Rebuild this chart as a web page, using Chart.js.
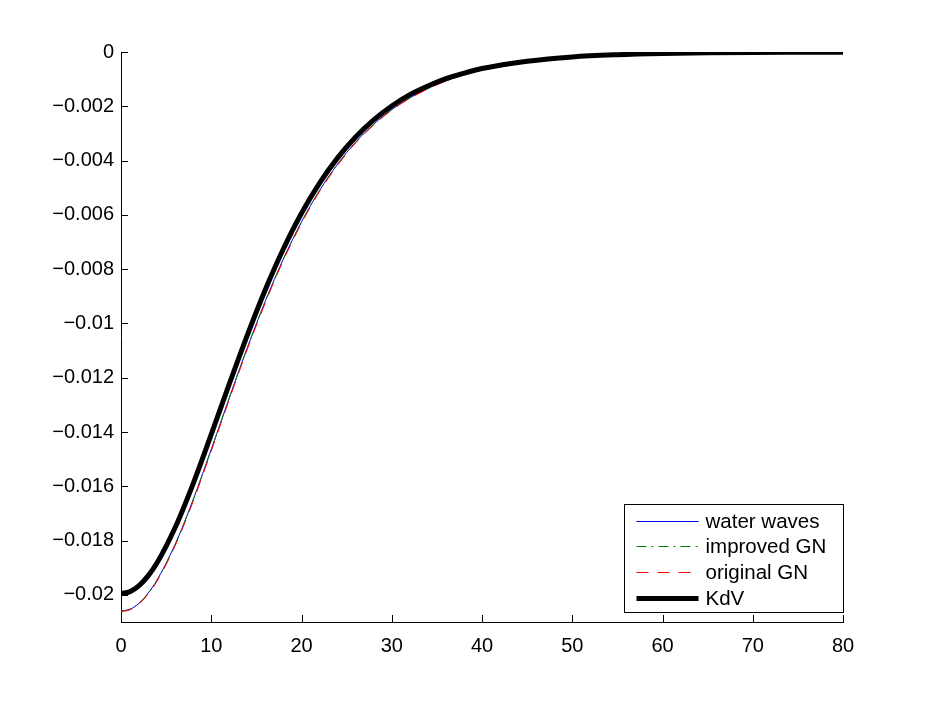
<!DOCTYPE html>
<html>
<head>
<meta charset="utf-8">
<script src="https://cdn.jsdelivr.net/npm/chart.js@4"></script>
<style>
  html, body { margin: 0; padding: 0; background: #fff; }
  #wrap { width: 934px; height: 701px; }
</style>
</head>
<body>
<div id="wrap"><canvas id="myChart" width="934" height="701"></canvas></div>
<script>
// values
const xValues = [0, 1, 2, 3, 4, 6, 8, 10, 12, 14, 16, 18, 20, 22, 24, 26, 28, 30, 32, 34, 36, 38, 40, 45, 50, 55, 60, 65, 70, 75, 80];
const waterWaves = [-0.0206, -0.02053, -0.02031, -0.01994, -0.01945, -0.01814, -0.01649, -0.01464, -0.01274, -0.01089, -0.00917, -0.00762, -0.00626, -0.0051, -0.00413, -0.00332, -0.00266, -0.00212, -0.00169, -0.00134, -0.00106, -0.00084, -0.00066, -0.00037, -0.0002, -0.00011, -0.00006, -0.000033, -0.000018, -0.00001, -0.000005];
const improvedGN = [-0.0206, -0.02053, -0.02031, -0.01995, -0.01946, -0.01815, -0.0165, -0.01465, -0.01275, -0.0109, -0.00918, -0.00763, -0.00627, -0.00511, -0.00414, -0.00333, -0.00267, -0.00213, -0.0017, -0.00135, -0.00107, -0.00085, -0.00067, -0.00037, -0.0002, -0.00011, -0.00006, -0.000033, -0.000018, -0.00001, -0.000005];
const originalGN = [-0.02062, -0.02055, -0.02034, -0.01997, -0.01949, -0.01819, -0.01655, -0.0147, -0.0128, -0.01095, -0.00923, -0.00767, -0.00631, -0.00514, -0.00417, -0.00335, -0.00269, -0.00214, -0.00171, -0.00136, -0.00107, -0.00085, -0.00067, -0.00038, -0.0002, -0.00011, -0.00006, -0.000033, -0.000018, -0.00001, -0.000005];
const kdv = [-0.01995, -0.01988, -0.01966, -0.0193, -0.01882, -0.01752, -0.0159, -0.01409, -0.01223, -0.01043, -0.00875, -0.00725, -0.00594, -0.00483, -0.0039, -0.00313, -0.0025, -0.00199, -0.00157, -0.00125, -0.00098, -0.00078, -0.00061, -0.00034, -0.00018, -0.0001, -0.000055, -0.00003, -0.000016, -0.000009, -0.000005];

const xTicks = [0, 10, 20, 30, 40, 50, 60, 70, 80];
const yTicks = [0, -0.002, -0.004, -0.006, -0.008, -0.01, -0.012, -0.014, -0.016, -0.018, -0.02];
const legendLabels = ['water waves', 'improved GN', 'original GN', 'KdV'];

const fontFamily = '"Liberation Sans", Arial, Helvetica, sans-serif';

function toPoints(ys) {
    return xValues.map(function (x, i) { return { x: x, y: ys[i] }; });
}

function makeDataset(label, ys, color, width, dash, order) {
    return {
        label: label,
        data: toPoints(ys),
        borderColor: color,
        backgroundColor: color,
        borderWidth: width,
        borderDash: dash,
        pointRadius: 0,
        fill: false,
        cubicInterpolationMode: 'monotone',
        order: order
    };
}

// inward tick marks, like the original axes
const innerTicks = {
    id: 'innerTicks',
    afterDatasetsDraw(chart) {
        const ctx = chart.ctx;
        const area = chart.chartArea;
        const xs = chart.scales.x;
        const ys = chart.scales.y;
        ctx.save();
        ctx.strokeStyle = '#000';
        ctx.lineWidth = 1;
        ctx.beginPath();
        xTicks.forEach(function (v) {
            const px = Math.round(xs.getPixelForValue(v)) + 0.5;
            ctx.moveTo(px, area.bottom);
            ctx.lineTo(px, area.bottom - 7);
        });
        yTicks.forEach(function (v) {
            const py = Math.round(ys.getPixelForValue(v)) + 0.5;
            ctx.moveTo(area.left, py);
            ctx.lineTo(area.left + 7, py);
        });
        ctx.stroke();
        ctx.restore();
    }
};

// boxed legend in the lower right corner
const boxLegend = {
    id: 'boxLegend',
    afterDraw(chart) {
        const ctx = chart.ctx;
        const area = chart.chartArea;
        const boxW = 219, boxH = 108;
        const bx = area.right - boxW + 0.5;
        const by = area.bottom - 10 - boxH + 0.5;
        ctx.save();
        ctx.fillStyle = '#fff';
        ctx.fillRect(bx, by, boxW, boxH);
        ctx.strokeStyle = '#000';
        ctx.lineWidth = 1;
        ctx.strokeRect(bx, by, boxW, boxH);
        ctx.font = '20.5px ' + fontFamily;
        ctx.textBaseline = 'middle';
        ctx.textAlign = 'left';
        chart.data.datasets.forEach(function (ds, i) {
            const cy = Math.round(by + 16 + i * 25.7) + 0.5;
            ctx.beginPath();
            ctx.strokeStyle = ds.borderColor;
            ctx.lineWidth = ds.borderWidth;
            ctx.setLineDash(ds.borderDash || []);
            ctx.moveTo(bx + 12, cy);
            ctx.lineTo(bx + 74, cy);
            ctx.stroke();
            ctx.setLineDash([]);
            ctx.fillStyle = '#000';
            ctx.fillText(legendLabels[i], bx + 81, cy + 1);
        });
        ctx.restore();
    }
};

const ctx = document.getElementById('myChart').getContext('2d');
new Chart(ctx, {
    type: 'line',
    data: {
        datasets: [
            makeDataset(legendLabels[0], waterWaves, '#0000ff', 1, [], 4),
            makeDataset(legendLabels[1], improvedGN, '#008000', 1, [10, 5, 2, 5], 3),
            makeDataset(legendLabels[2], originalGN, '#ff0000', 1, [12, 9], 2),
            makeDataset(legendLabels[3], kdv, '#000000', 5, [], 1)
        ]
    },
    options: {
        responsive: false,
        animation: false,
        layout: { padding: { left: 0, top: 52, right: 91, bottom: 0 } },
        plugins: {
            legend: { display: false },
            tooltip: { enabled: false }
        },
        scales: {
            x: {
                type: 'linear',
                min: 0,
                max: 80,
                afterBuildTicks: function (scale) {
                    scale.ticks = xTicks.map(function (v) { return { value: v }; });
                },
                afterFit: function (scale) { scale.height = 79; },
                grid: { display: false, drawTicks: false },
                border: { display: true, color: '#000', width: 1 },
                ticks: {
                    color: '#000',
                    padding: 12,
                    maxRotation: 0,
                    font: { family: fontFamily, size: 20 }
                }
            },
            y: {
                type: 'linear',
                min: -0.021,
                max: 0,
                afterBuildTicks: function (scale) {
                    scale.ticks = yTicks.map(function (v) { return { value: v }; });
                },
                afterFit: function (scale) { scale.width = 121; },
                grid: { display: false, drawTicks: false },
                border: { display: true, color: '#000', width: 1 },
                ticks: {
                    color: '#000',
                    padding: 7,
                    font: { family: fontFamily, size: 20 },
                    callback: function (v) {
                        return String(Number(v.toFixed(3))).replace('-', '\u2212');
                    }
                }
            }
        }
    },
    plugins: [innerTicks, boxLegend]
});
</script>
</body>
</html>
